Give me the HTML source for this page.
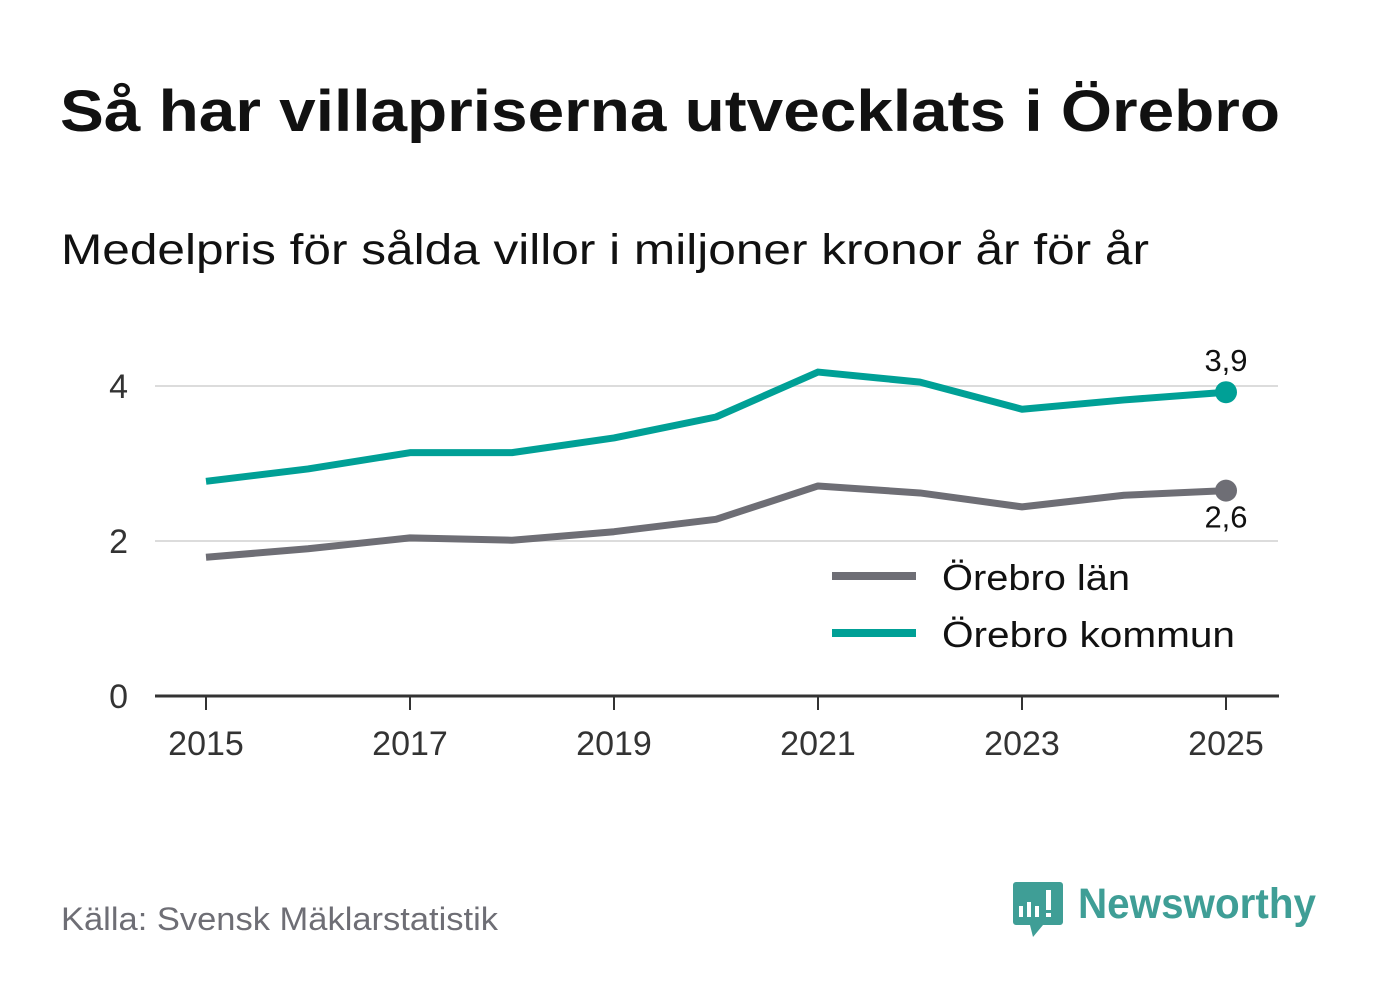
<!DOCTYPE html>
<html><head><meta charset="utf-8"><style>
body{margin:0;background:#fff;width:1382px;height:999px;overflow:hidden;font-family:"Liberation Sans",sans-serif;}
</style></head><body>
<svg width="1382" height="999" xmlns="http://www.w3.org/2000/svg">
<text x="60" y="131" font-size="58" font-weight="bold" fill="#111" textLength="1220" lengthAdjust="spacingAndGlyphs">Så har villapriserna utvecklats i Örebro</text>
<text x="61" y="264" font-size="43" fill="#111" textLength="1088" lengthAdjust="spacingAndGlyphs">Medelpris för sålda villor i miljoner kronor år för år</text>
<g id="grid"></g><g id="axes"></g><g id="series"></g>
<g>
<line x1="832" y1="576" x2="916" y2="576" stroke="#6e6e75" stroke-width="8"/>
<text x="942" y="590" font-size="36" fill="#111" textLength="188" lengthAdjust="spacingAndGlyphs">Örebro län</text>
<line x1="832" y1="633" x2="916" y2="633" stroke="#00a096" stroke-width="8"/>
<text x="942" y="647" font-size="36" fill="#111" textLength="293" lengthAdjust="spacingAndGlyphs">Örebro kommun</text>
</g>
<text x="61" y="930" font-size="32" fill="#6e6e75" textLength="437" lengthAdjust="spacingAndGlyphs">Källa: Svensk Mäklarstatistik</text>
<g>
<path d="M1013 882 h47 a3 3 0 0 1 3 3 v37 a3 3 0 0 1 -3 3 h-17 l-10 12 l-3 -12 h-14 a3 3 0 0 1 -3 -3 v-37 a3 3 0 0 1 3 -3z" fill="#3f9e96"/>
<rect x="1019" y="906" width="4" height="11" fill="#fff"/><rect x="1027" y="902" width="4" height="15" fill="#fff"/><rect x="1035" y="906" width="4" height="11" fill="#fff"/><rect x="1046" y="890" width="5" height="20" fill="#fff"/><rect x="1046" y="913" width="5" height="4" fill="#fff"/>
<text x="1078" y="918" font-size="43" font-weight="bold" fill="#3f9e96" textLength="238" lengthAdjust="spacingAndGlyphs">Newsworthy</text>
</g>
</svg>
<script>
const years=[2015,2016,2017,2018,2019,2020,2021,2022,2023,2024,2025];
const kommun=[2.77,2.93,3.14,3.14,3.33,3.6,4.18,4.05,3.7,3.82,3.92];
const lan=[1.79,1.9,2.04,2.01,2.12,2.28,2.71,2.62,2.44,2.59,2.65];
const yTicks=[0,2,4];
const xTicks=[2015,2017,2019,2021,2023,2025];
const NS="http://www.w3.org/2000/svg";
const X=v=>206+(v-2015)*102;
const Y=v=>696-v*77.5;
function mk(p,t,a){const e=document.createElementNS(NS,t);for(const k in a)e.setAttribute(k,a[k]);document.getElementById(p).appendChild(e);return e;}
yTicks.forEach(t=>{
 if(t>0){const g=mk('grid','line',{x1:155,x2:1278,y1:Y(t),y2:Y(t),stroke:'#dcdcdc','stroke-width':2});
 
 }
 const l=mk('axes','text',{x:128,y:Y(t)+12,'font-size':34,fill:'#333','text-anchor':'end'});l.textContent=t;
 
 
});
const ax=mk('axes','line',{x1:155,x2:1279,y1:696,y2:696,stroke:'#333','stroke-width':3});


xTicks.forEach(t=>{
 const tk=mk('axes','line',{x1:X(t),x2:X(t),y1:696,y2:710,stroke:'#333','stroke-width':2});
 
 
 const l=mk('axes','text',{x:X(t),y:755,'font-size':34,fill:'#333','text-anchor':'middle'});l.textContent=t;
 
 
});
function series(vals,color,name,labelDy){
 const p=mk('series','polyline',{points:vals.map((v,i)=>X(years[i])+','+Y(v)).join(' '),fill:'none',stroke:color,'stroke-width':7,'stroke-linejoin':'round'});
 
 
 const n=vals.length-1;
 const c=mk('series','circle',{cx:X(years[n]),cy:Y(vals[n]),r:11,fill:color});
 
 
 const t=mk('series','text',{x:X(years[n]),y:Y(vals[n])+labelDy,'font-size':31,fill:'#111','text-anchor':'middle'});
 t.textContent=vals[n].toFixed(1).replace('.',',');
 
 
}
series(lan,'#6e6e75','lan',37);
series(kommun,'#00a096','kommun',-21);
</script>
</body></html>
